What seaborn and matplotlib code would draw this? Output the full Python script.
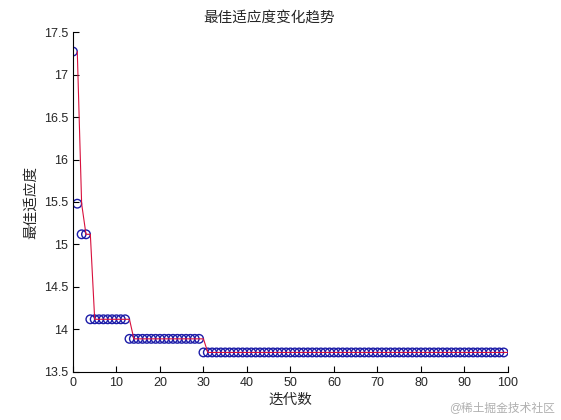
import numpy as np
import pandas as pd
import seaborn as sns
from matplotlib import pyplot as plt

# best fitness per iteration
gen = list(range(1, 101))
best = ([17.27, 15.48, 15.12, 15.12]
        + [14.12] * 9
        + [13.89] * 17
        + [13.73] * 70)
xticks = [0, 10, 20, 30, 40, 50, 60, 70, 80, 90, 100]
yticks = [13.5, 14, 14.5, 15, 15.5, 16, 16.5, 17, 17.5]

# markers were plotted against 0..99, the line against 1..100
df = pd.DataFrame({"gen": gen, "best": best})
df["mark_x"] = df["gen"] - 1

sns.set_style("white")
plt.rcParams['font.family'] = ['Liberation Sans', 'Noto Sans CJK SC']

fig = plt.figure(figsize=(5.61, 4.2), dpi=100)
ax = fig.add_axes([0.130, 0.1143, 0.7755, 0.8095])

sns.scatterplot(data=df, x="mark_x", y="best", ax=ax, marker="o", s=38,
                facecolors="none", edgecolor="#1c1ca8", linewidth=1.0, zorder=2)
sns.lineplot(data=df, x="gen", y="best", ax=ax, color="#d8103c",
             linewidth=0.8, zorder=3)

ax.set_xlim(0, 100)
ax.set_ylim(13.5, 17.5)
ax.set_xticks(xticks)
ax.set_yticks(yticks)
ax.set_yticklabels([f"{v:g}" for v in yticks])
ax.tick_params(direction="in", length=4, labelsize=9, color="black",
               left=True, bottom=True)
for s in ["top", "right"]:
    ax.spines[s].set_visible(False)
for s in ["left", "bottom"]:
    ax.spines[s].set_color("black")
    ax.spines[s].set_linewidth(0.8)

ax.set_title("最佳适应度变化趋势", fontsize=10.5, pad=7, x=0.45)
ax.set_xlabel("迭代数", fontsize=10.5, labelpad=3)
ax.set_ylabel("最佳适应度", fontsize=10.5, labelpad=4)

fig.text(0.99, 0.015, "@稀土掘金技术社区", ha="right", va="bottom",
         fontsize=8.5, color="#b0b0b0")

fig.savefig("out.png", dpi=100)
